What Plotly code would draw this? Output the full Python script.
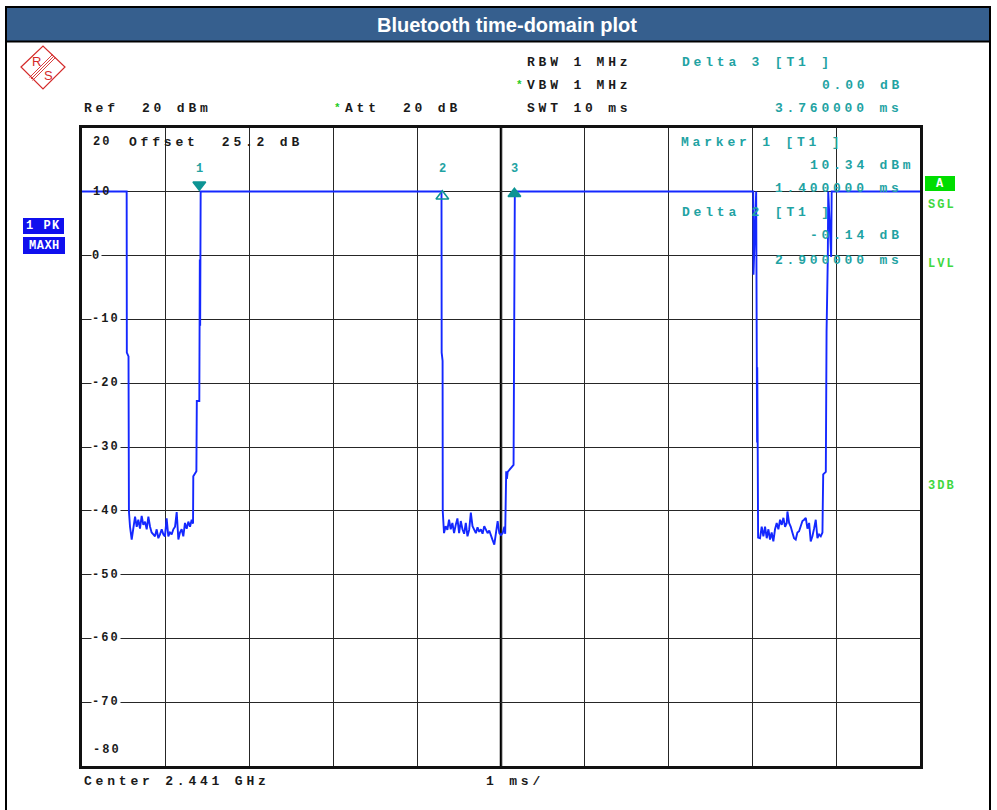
import plotly.graph_objects as go

# ---------------- data ----------------
time_ms = [
    0.000, 0.533, 0.535, 0.555, 0.560,
    0.573, 0.593, 0.613, 0.633, 0.653, 0.672, 0.692, 0.712, 0.732, 0.752,
    0.772, 0.792, 0.812, 0.831, 0.851, 0.871, 0.891, 0.911, 0.931, 0.951,
    0.971, 0.990, 1.010, 1.030, 1.050, 1.070, 1.090, 1.110, 1.130, 1.150,
    1.169, 1.189, 1.209, 1.229, 1.249, 1.269, 1.289, 1.309,
    1.325, 1.328, 1.365, 1.370, 1.400, 1.402, 1.406, 1.410, 1.416,
    4.290, 4.292, 4.303, 4.305,
    4.320, 4.340, 4.360, 4.380, 4.400, 4.420, 4.440, 4.460, 4.480, 4.500,
    4.520, 4.540, 4.560, 4.580, 4.600, 4.620, 4.640, 4.660, 4.680, 4.700,
    4.720, 4.740, 4.760, 4.780, 4.800, 4.820, 4.840, 4.860, 4.880, 4.900,
    4.920, 4.940, 4.960, 4.980, 5.000, 5.020, 5.040, 5.050,
    5.058, 5.062, 5.070, 5.080, 5.150, 5.155, 5.165,
    8.010, 8.013, 8.045, 8.050, 8.056, 8.058, 8.063, 8.068,
    8.091, 8.111, 8.131, 8.151, 8.171, 8.191, 8.210, 8.230, 8.250, 8.270,
    8.290, 8.310, 8.330, 8.350, 8.370, 8.390, 8.410, 8.418, 8.438, 8.458,
    8.477, 8.497, 8.517, 8.537, 8.557, 8.577, 8.597, 8.617, 8.637, 8.657,
    8.677, 8.696, 8.716, 8.736, 8.756, 8.776, 8.796, 8.816, 8.836,
    8.840, 8.845, 8.876, 8.880, 8.885, 8.900, 8.905, 8.940, 8.946, 10.000,
]
level_dbm = [
    10.05, 10.05, -15.2, -15.8, -40.1,
    -42.5, -44.5, -42.9, -40.9, -42.5, -41.4, -42.8, -40.8, -42.2, -41.7,
    -42.9, -40.9, -42.5, -43.4, -43.7, -44.0, -42.9, -44.3, -43.7, -42.9,
    -43.7, -44.0, -41.2, -44.0, -43.4, -43.7, -42.9, -42.5, -40.2, -44.5,
    -43.4, -42.9, -44.0, -41.9, -42.8, -41.7, -42.5, -41.4,
    -42.0, -34.6, -33.8, -22.8, -22.8, -11.6, -0.6, -11.0, 10.05,
    10.05, -15.2, -16.5, -40.1,
    -43.5, -42.4, -43.0, -41.4, -42.9, -41.9, -43.5, -42.2, -41.2, -43.5,
    -41.6, -42.9, -43.6, -41.9, -44.0, -43.0, -40.3, -42.4, -43.0, -43.5,
    -42.6, -43.3, -42.9, -43.6, -42.4, -43.0, -43.5, -43.1, -44.0, -44.6,
    -45.3, -43.7, -41.6, -43.5, -43.8, -43.5, -42.5, -43.6,
    -37.0, -33.8, -35.0, -33.9, -32.8, -11.3, 10.05,
    10.05, -3.0, 10.05, -16.8, -29.3, -17.5, -29.3, -44.2,
    -44.3, -42.5, -44.0, -42.5, -44.3, -42.9, -44.5, -43.4, -44.8, -42.9,
    -41.9, -42.9, -41.4, -42.2, -41.1, -42.5, -41.9, -40.1, -41.9, -42.5,
    -43.4, -44.3, -44.5, -43.4, -43.2, -42.5, -41.6, -41.4, -41.1, -42.8,
    -41.9, -44.8, -44.0, -42.8, -41.4, -44.3, -43.7, -44.0, -43.4,
    -39.0, -34.3, -33.9, -22.8, -11.9, -0.2, 10.05, -0.2, 10.05, 10.05,
]

marker_names = ["1", "2", "3"]
marker_time = [1.40, 4.30, 5.16]
marker_level = [10.05, 10.05, 10.05]

y_tick_values = [20, 10, 0, -10, -20, -30, -40, -50, -60, -70, -80]
y_tick_labels = ["20", "10", "0", "-10", "-20", "-30", "-40", "-50", "-60", "-70", "-80"]

# ---------------- geometry helpers ----------------
W, H = 997, 810
PL, PR, PT, PB = 82, 920, 128, 766


def px(x):
    return (x - PL) / (PR - PL)


def py(y):
    return (PB - y) / (PB - PT)


BLUE = "#1428ff"
TEAL = "#1fa3a3"
TEAL_DARK = "#0d9494"
GREEN = "#3fd83f"
BLACK_TXT = "#1a1a1a"

fig = go.Figure()

fig.add_trace(go.Scatter(
    x=time_ms, y=level_dbm, mode="lines",
    line=dict(color=BLUE, width=1.9),
    hoverinfo="skip", showlegend=False,
))

# markers (symbols offset from the trace level so they sit on / under the line)
sym = ["triangle-down", "triangle-up-open", "triangle-up"]
dy = [1.05, -0.75, -0.35]
for i in range(3):
    fig.add_trace(go.Scatter(
        x=[marker_time[i]], y=[marker_level[i] + dy[i]], mode="markers",
        marker=dict(symbol=sym[i], size=11, color=TEAL_DARK,
                    line=dict(color=TEAL_DARK, width=1.6)),
        hoverinfo="skip", showlegend=False,
    ))


def txt(x, y, s, color=BLACK_TXT, size=13, anchor="left", spacing=3.8,
        family="Liberation Mono", weight="bold", bg=None):
    s = s.replace(" ", "\u00a0")
    kw = {}
    if bg:
        kw = dict(bgcolor=bg, borderpad=0)
    fig.add_annotation(
        x=px(x), y=py(y), xref="paper", yref="paper",
        text=f'<span style="letter-spacing:{spacing}px">{s}</span>',
        showarrow=False, xanchor=anchor, yanchor="middle",
        font=dict(family=family, size=size, color=color, weight=weight),
        **kw,
    )


# header texts
txt(525, 62, "RBW 1 MHz")
txt(514, 85, "*", color="#22cc22", spacing=0, size=11)
txt(525, 85, "VBW 1 MHz")
txt(525, 108, "SWT 10 ms")
txt(82, 108, "Ref  20 dBm")
txt(332, 108, "*", color="#22cc22", spacing=0, size=11)
txt(343, 108, "Att  20 dB")
txt(680, 62, "Delta 3 [T1 ]", color=TEAL)
txt(820, 85, "0.00 dB", color=TEAL)
txt(773, 108, "3.760000 ms", color=TEAL)

# in-plot texts
txt(127, 142, "Offset  25.2 dB")
txt(679, 142, "Marker 1 [T1 ]", color=TEAL)
txt(808, 165, "10.34 dBm", color=TEAL)
txt(773, 188, "1.400000 ms", color=TEAL)
txt(680, 212, "Delta 2 [T1 ]", color=TEAL)
txt(808, 235, "-0.14 dB", color=TEAL)
txt(773, 260, "2.900000 ms", color=TEAL)

for i in range(3):
    fig.add_annotation(
        x=marker_time[i], y=13.5, xref="x", yref="y", text=marker_names[i],
        showarrow=False, xanchor="center", yanchor="middle",
        font=dict(family="Liberation Mono", size=12, color=TEAL, weight="bold"),
    )

# y tick labels drawn inside the plot
for v, lab in zip(y_tick_values, y_tick_labels):
    ypix = PB - (v + 80) / 100 * (PB - PT)
    bg = "#ffffff"
    if v == 20:
        ypix = 142
        bg = None
    if v == 10:
        bg = None
    if v == -80:
        ypix = 750
        bg = None
    txt(91, ypix, lab, size=12, spacing=2, bg=bg)

# bottom texts
txt(82, 782, "Center 2.441 GHz")
txt(484, 782, "1 ms/")

# right status labels
txt(926, 205, "SGL", color=GREEN, spacing=2, size=12)
txt(926, 264, "LVL", color=GREEN, spacing=2, size=12)
txt(926, 486, "3DB", color=GREEN, spacing=2, size=12)

shapes = []
# page frame and title bar
shapes.append(dict(type="rect", xref="paper", yref="paper",
                   x0=px(7), x1=px(990), y0=py(8), y1=py(41),
                   fillcolor="#365f8e", line=dict(width=0), layer="below"))
shapes.append(dict(type="rect", xref="paper", yref="paper",
                   x0=px(6), x1=px(990), y0=py(7), y1=py(830),
                   line=dict(color="#000000", width=2), fillcolor="rgba(0,0,0,0)"))
shapes.append(dict(type="line", xref="paper", yref="paper",
                   x0=px(6), x1=px(990), y0=py(41.5), y1=py(41.5),
                   line=dict(color="#000000", width=2)))
# centre graticule line
shapes.append(dict(type="line", xref="x", yref="y", x0=5, x1=5, y0=-80, y1=20,
                   line=dict(color="#000000", width=2.5), layer="below"))
# trace-mode boxes
shapes.append(dict(type="rect", xref="paper", yref="paper",
                   x0=px(23), x1=px(64), y0=py(218), y1=py(234),
                   fillcolor="#1010ee", line=dict(width=0)))
shapes.append(dict(type="rect", xref="paper", yref="paper",
                   x0=px(23), x1=px(65), y0=py(237), y1=py(254),
                   fillcolor="#1010ee", line=dict(width=0)))
shapes.append(dict(type="rect", xref="paper", yref="paper",
                   x0=px(925), x1=px(955), y0=py(176), y1=py(191),
                   fillcolor="#00dd00", line=dict(width=0)))
# R&S logo
LOGO = "#d42a2a"
shapes.append(dict(type="path", xref="paper", yref="paper",
                   path=f"M {px(21)},{py(67)} L {px(43)},{py(46)} L {px(65)},{py(67)} L {px(43)},{py(89)} Z",
                   line=dict(color=LOGO, width=1.2), fillcolor="rgba(0,0,0,0)"))
for off in (-1.5, 0, 1.5):
    shapes.append(dict(type="line", xref="paper", yref="paper",
                       x0=px(31 + off), y0=py(79 + off), x1=px(54 + off), y1=py(56 + off),
                       line=dict(color=LOGO, width=0.9)))
fig.update_layout(shapes=shapes)

fig.add_annotation(x=px(36.5), y=py(61), xref="paper", yref="paper", text="R",
                   showarrow=False, xanchor="center", yanchor="middle",
                   font=dict(family="Liberation Sans", size=13, color=LOGO))
fig.add_annotation(x=px(48.5), y=py(75), xref="paper", yref="paper", text="S",
                   showarrow=False, xanchor="center", yanchor="middle",
                   font=dict(family="Liberation Sans", size=13, color=LOGO))

# title
fig.add_annotation(x=px(507), y=py(25), xref="paper", yref="paper",
                   text="Bluetooth time-domain plot", showarrow=False,
                   xanchor="center", yanchor="middle",
                   font=dict(family="Liberation Sans", size=20, color="#ffffff", weight="bold"))

# boxed labels
txt(43.5, 226, "1 PK", color="#ffffff", anchor="center", spacing=1.5, size=12)
txt(44, 246, "MAXH", color="#ffffff", anchor="center", spacing=0.5, size=12)
txt(940, 184, "A", color="#ffffff", anchor="center", spacing=0, size=12)

axis_common = dict(showgrid=True, gridcolor="#262626", gridwidth=1.2,
                   showticklabels=False, ticks="", zeroline=False,
                   showline=True, linecolor="#111111", linewidth=2.5, mirror=True)
fig.update_layout(
    width=W, height=H,
    margin=dict(l=PL, r=W - PR, t=PT, b=H - PB, pad=0),
    paper_bgcolor="#ffffff", plot_bgcolor="#ffffff",
    xaxis=dict(range=[0, 10], dtick=1, tick0=0, **axis_common),
    yaxis=dict(range=[-80, 20], dtick=10, tick0=0, **axis_common),
    showlegend=False,
)

fig.write_html("out.html", config={"displayModeBar": False},
               post_script="document.body.style.margin='0';document.body.style.padding='0';")
